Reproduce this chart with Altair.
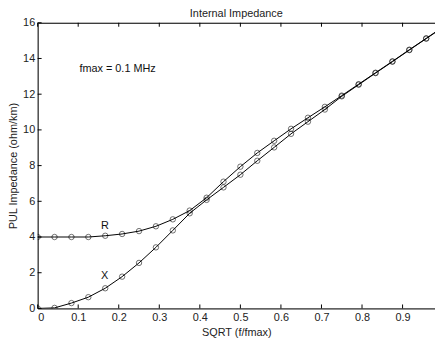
import altair as alt
import pandas as pd

# x = SQRT(f/fmax), sampled at k/24
x_vals = [k / 24 for k in range(25)]
r_vals = [4.0, 4.0, 4.0, 4.0, 4.07, 4.17, 4.33, 4.6, 4.99, 5.48, 6.2, 7.1, 7.94,
          8.71, 9.39, 10.06, 10.68, 11.29, 11.92, 12.56, 13.2, 13.84, 14.49, 15.13, 15.77]
x_react = [0.0, 0.03, 0.3, 0.63, 1.13, 1.78, 2.55, 3.42, 4.37, 5.33, 6.08, 6.78, 7.49,
           8.27, 9.02, 9.78, 10.46, 11.14, 11.88, 12.53, 13.18, 13.82, 14.47, 15.11, 15.75]

x_ticks = [0, 0.1, 0.2, 0.3, 0.4, 0.5, 0.6, 0.7, 0.8, 0.9]
y_ticks = [0, 2, 4, 6, 8, 10, 12, 14, 16]

ann_text = ["fmax = 0.1 MHz", "R", "X"]
ann_x = [0.103, 0.156, 0.156]
ann_y = [13.4, 4.6, 1.8]

W, H = 402, 289
XMAX, YMAX = 0.98, 16
TICK_PX = 4
tx = TICK_PX * XMAX / W
ty = TICK_PX * YMAX / H

df = pd.DataFrame({
    "x": x_vals * 2,
    "y": r_vals + x_react,
    "series": ["R"] * len(x_vals) + ["X"] * len(x_vals),
})
n = len(x_ticks)
xt = pd.DataFrame({
    "x": x_ticks * 2,
    "y": [0] * n + [YMAX] * n,
    "y2": [ty] * n + [YMAX - ty] * n,
})
yt = pd.DataFrame({"y": y_ticks, "x": [0] * len(y_ticks), "x2": [tx] * len(y_ticks)})
ann = pd.DataFrame({"t": ann_text, "x": ann_x, "y": ann_y})

FONT = "Liberation Sans"
xscale = alt.Scale(domain=[0, XMAX], nice=False, zero=False)
yscale = alt.Scale(domain=[0, YMAX], nice=False)

xaxis = alt.Axis(orient="bottom", values=x_ticks, format="~g", ticks=False, grid=False,
                 domainColor="black", labelColor="#222", labelFontSize=11, labelFont=FONT,
                 labelPadding=3, labelOverlap=False,
                 title="SQRT (f/fmax)", titleFont=FONT, titleFontSize=11,
                 titleFontWeight="normal", titleColor="#222", titlePadding=4)
yaxis = alt.Axis(values=y_ticks, ticks=False, grid=False, domainColor="black",
                 labelColor="#222", labelFontSize=11, labelFont=FONT, labelPadding=3,
                 labelOverlap=False,
                 title="PUL Impedance (ohm/km)", titleFont=FONT, titleFontSize=11,
                 titleFontWeight="normal", titleColor="#222", titlePadding=4)

Y = alt.Y("y:Q", scale=yscale, axis=yaxis)

lines = alt.Chart(df).mark_line(color="black", strokeWidth=1, clip=True).encode(
    x=alt.X("x:Q", scale=xscale, axis=xaxis),
    y=Y,
    detail="series:N",
)
points = alt.Chart(df).mark_point(shape="circle", filled=False, size=30, color="black",
                                  strokeWidth=0.8, clip=True).encode(
    x=alt.X("x:Q", scale=xscale, axis=None),
    y=Y,
    detail="series:N",
)
xtick = alt.Chart(xt).mark_rule(color="black", strokeWidth=1).encode(
    x=alt.X("x:Q", scale=xscale,
            axis=alt.Axis(orient="top", labels=False, ticks=False, grid=False,
                          domainColor="black", title=None)),
    y=Y,
    y2="y2:Q",
)
ytick = alt.Chart(yt).mark_rule(color="black", strokeWidth=1).encode(
    x=alt.X("x:Q", scale=xscale, axis=None),
    x2="x2:Q",
    y=Y,
)
texts = alt.Chart(ann).mark_text(align="left", baseline="middle", font=FONT,
                                 fontSize=11, color="#111").encode(
    x=alt.X("x:Q", scale=xscale, axis=None),
    y=Y,
    text="t:N",
)

chart = alt.layer(lines, points, texts, ytick, xtick).resolve_axis(x="independent").properties(
    width=W, height=H,
    title=alt.TitleParams("Internal Impedance", font=FONT, fontSize=11,
                          fontWeight="normal", color="#222", offset=-2, anchor="middle"),
    padding={"left": 30, "top": 13, "right": 0, "bottom": 30},
    autosize=alt.AutoSizeParams(type="none"),
).configure_view(stroke=None).configure(background="white")

chart.save("out.html", embed_options={"renderer": "svg", "actions": False})
